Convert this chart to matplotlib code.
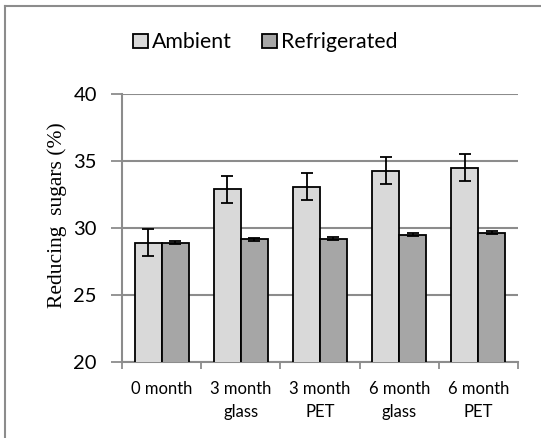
import matplotlib.pyplot as plt
from matplotlib.lines import Line2D
import numpy as np

categories = ['0 month', '3 month\nglass', '3 month\nPET', '6 month\nglass', '6 month\nPET']
ambient = [28.9, 32.9, 33.1, 34.3, 34.5]
ambient_err = [1.0, 1.0, 1.0, 1.0, 1.0]
refrigerated = [28.9, 29.15, 29.2, 29.5, 29.65]
refrigerated_err = [0.1, 0.1, 0.1, 0.1, 0.1]

grid_grey = '#8c8c8c'
sans = ['Lato', 'DejaVu Sans']

fig = plt.figure(figsize=(5.41, 4.38), dpi=100)
ax = fig.add_axes([0.2255, 0.1742, 0.732, 0.6105])

x = np.arange(len(categories))
w = 0.34
err_kw = dict(ecolor='black', elinewidth=1.3, capsize=4, capthick=1.3)
ax.bar(x - w / 2, ambient, w, yerr=ambient_err, color='#d9d9d9', edgecolor='black',
       linewidth=1.3, label='Ambient', error_kw=err_kw, zorder=3)
ax.bar(x + w / 2, refrigerated, w, yerr=refrigerated_err, color='#a6a6a6', edgecolor='black',
       linewidth=1.3, label='Refrigerated', error_kw=err_kw, zorder=3)

ax.set_xlim(-0.5, len(categories) - 0.5)
ax.set_ylim(20, 40)
ax.set_yticks([20, 25, 30, 35, 40])
ax.yaxis.grid(True, color=grid_grey, linewidth=1.5)
ax.set_axisbelow(True)

# category ticks sit on the group boundaries, labels centred under each group
ax.set_xticks(np.arange(len(categories) + 1) - 0.5)
ax.set_xticklabels([])
ax.set_xticks(x, minor=True)
ax.set_xticklabels(categories, minor=True, fontsize=12, family=sans, linespacing=1.5)
ax.tick_params(axis='x', which='minor', length=0, pad=14)
ax.tick_params(axis='x', which='major', length=5, color=grid_grey, width=1.3)
ax.tick_params(axis='y', length=8, color=grid_grey, width=1.3, pad=10)
for lbl in ax.get_yticklabels():
    lbl.set_fontsize(14.5)
    lbl.set_family(sans)

for side in ['top', 'right']:
    ax.spines[side].set_visible(False)
for side in ['left', 'bottom']:
    ax.spines[side].set_color(grid_grey)
    ax.spines[side].set_linewidth(1.5)

ax.set_ylabel('Reducing  sugars (%)', family=['Liberation Serif'], fontsize=15.5)
ax.yaxis.set_label_coords(-0.14, 0.55)

leg = fig.legend(loc='center', bbox_to_anchor=(0.49, 0.903), ncol=2, frameon=False,
                 prop={'family': sans, 'size': 15.3}, handlelength=0.7, handleheight=0.7,
                 handletextpad=0.2, columnspacing=1.4)

# outer frame (only left and top edges drawn)
fig.add_artist(Line2D([0.0092, 0.0092], [0, 0.986], color=grid_grey, linewidth=1.5))
fig.add_artist(Line2D([0.0092, 1.0], [0.986, 0.986], color=grid_grey, linewidth=1.5))

fig.savefig('out.png', dpi=100)
